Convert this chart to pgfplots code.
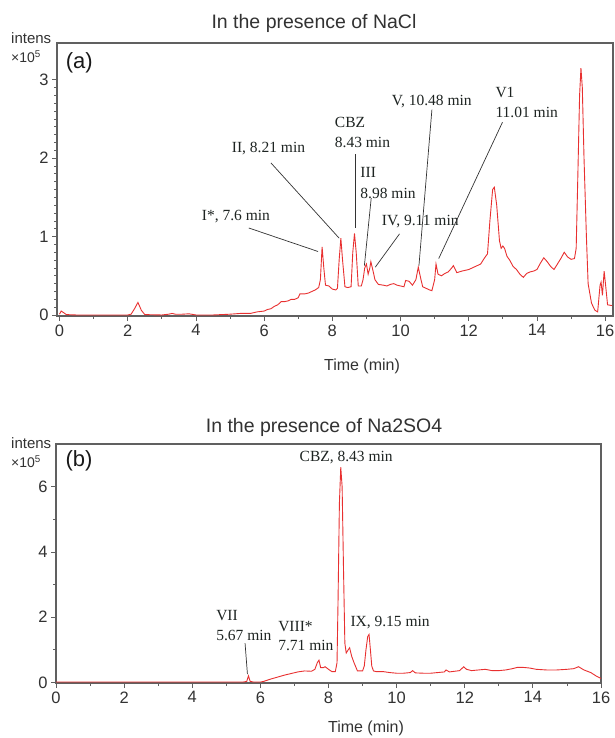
\documentclass[border=0pt]{standalone}
\usepackage{pgfplots}
\pgfplotsset{compat=1.18}
\usepackage{fontspec}
\setmainfont{Liberation Sans}
\newfontfamily\serif{Liberation Serif}

\definecolor{trace}{RGB}{232,48,48}
\definecolor{axgray}{RGB}{96,96,96}
\definecolor{lblgray}{RGB}{50,50,50}
\definecolor{notecol}{RGB}{30,36,34}

\pgfplotsset{
  chrom/.style={
    scale only axis,
    axis line style={axgray,line width=1.2pt},
    tick style={axgray,line width=0.8pt},
    tick align=outside,
    xtick pos=bottom, ytick pos=left,
    major tick length=5pt, minor tick length=3pt,
    ticklabel style={font=\fontsize{16.5}{18}\selectfont,text=lblgray},
    /pgf/number format/assume math mode=true,
    xtick={0,2,...,16},
    minor x tick num=1,
    clip=true,
  },
}
\tikzset{
  note/.style={font=\serif\fontsize{15.5}{17}\selectfont,text=notecol,inner sep=0pt},
  lead/.style={black!80,line width=0.7pt},
}

\begin{document}
\begin{tikzpicture}
\path[use as bounding box] (0pt,0pt) rectangle (614pt,-738pt);

% ---------- (a) NaCl ----------
\node[font=\fontsize{19.5}{22}\selectfont,text=lblgray] at (314pt,-23pt) {In the presence of NaCl};
\node[font=\fontsize{15}{16}\selectfont,text=lblgray,anchor=west,inner sep=0pt] at (11pt,-38pt) {intens};
\node[font=\fontsize{14}{16}\selectfont,text=lblgray,anchor=west,inner sep=0pt] at (11pt,-57pt) {×10\textsuperscript{5}};
\node[font=\fontsize{16}{18}\selectfont,text=lblgray] at (362pt,-366pt) {Time (min)};

\begin{axis}[chrom,
  at={(57pt,-316pt)}, anchor=south west,
  width=556pt, height=273pt,
  xmin=-0.073, xmax=16.23,
  ymin=-0.013, ymax=3.47,
  ytick={0,1,2,3}, minor y tick num=9,
]
\addplot[trace,line width=0.9pt] coordinates {
(0,0.01)(0.05,0.05)(0.12,0.03)(0.2,0.005)(0.5,0)(1,0)(1.5,0)(2.0,0)(2.1,0.01)(2.2,0.08)(2.3,0.16)(2.4,0.06)(2.5,0.005)
(3.0,0)(3.2,0.01)(3.3,0.02)(3.4,0.01)(3.6,0.01)(3.8,0.015)(4.0,0)(4.5,0)(5.0,0.01)(5.3,0.02)(5.6,0.02)(5.8,0.04)
(6.0,0.05)(6.1,0.07)(6.2,0.08)(6.3,0.11)(6.4,0.13)(6.5,0.17)(6.6,0.17)(6.7,0.18)(6.8,0.2)(6.9,0.2)(7.0,0.22)(7.05,0.27)
(7.2,0.27)(7.3,0.28)(7.4,0.3)(7.5,0.32)(7.6,0.35)(7.65,0.45)(7.7,0.87)(7.75,0.6)(7.8,0.38)(7.9,0.37)(8.0,0.33)(8.1,0.32)
(8.15,0.34)(8.2,0.7)(8.25,0.98)(8.3,0.7)(8.37,0.36)(8.45,0.35)(8.55,0.36)(8.6,0.8)(8.65,1.04)(8.7,0.8)(8.76,0.37)
(8.85,0.37)(8.9,0.45)(8.95,0.6)(9.0,0.65)(9.05,0.52)(9.1,0.6)(9.13,0.68)(9.2,0.55)(9.25,0.45)(9.35,0.39)(9.5,0.38)
(9.6,0.37)(9.7,0.39)(9.8,0.40)(9.9,0.38)(10.0,0.37)(10.1,0.36)(10.15,0.44)(10.25,0.43)(10.35,0.38)(10.45,0.45)
(10.52,0.61)(10.6,0.45)(10.65,0.36)(10.75,0.34)(10.85,0.32)(10.92,0.31)(11.0,0.45)(11.04,0.65)(11.1,0.52)(11.2,0.5)
(11.3,0.53)(11.4,0.55)(11.5,0.6)(11.55,0.63)(11.65,0.54)(11.8,0.56)(12.0,0.58)(12.2,0.62)(12.35,0.65)(12.45,0.72)
(12.55,0.78)(12.62,1.2)(12.7,1.6)(12.75,1.63)(12.82,1.4)(12.9,0.95)(12.95,0.85)(13.0,0.88)(13.05,0.85)(13.12,0.75)
(13.2,0.7)(13.3,0.62)(13.4,0.58)(13.5,0.52)(13.6,0.48)(13.7,0.53)(13.8,0.55)(13.9,0.56)(14.0,0.58)(14.1,0.66)
(14.2,0.73)(14.3,0.68)(14.4,0.62)(14.5,0.58)(14.6,0.65)(14.7,0.72)(14.8,0.80)(14.9,0.74)(15.0,0.71)(15.1,0.72)
(15.15,0.85)(15.2,1.8)(15.25,2.8)(15.29,3.15)(15.33,2.9)(15.38,2.0)(15.45,1.0)(15.5,0.4)(15.6,0.15)(15.7,0.06)
(15.78,0.04)(15.85,0.38)(15.88,0.42)(15.92,0.25)(15.97,0.56)(16.02,0.35)(16.07,0.13)(16.2,0.12)
};
\node[anchor=west,font=\fontsize{22}{24}\selectfont,text=black!90] at (axis cs:0.08,3.22) {(a)};
% peak labels
\node[note,anchor=west] at (axis cs:4.17,1.25) {I*, 7.6 min};
\draw[lead] (axis cs:5.55,1.11) -- (axis cs:7.58,0.81);
\node[note,anchor=west] at (axis cs:5.05,2.12) {II, 8.21 min};
\draw[lead] (axis cs:6.2,1.94) -- (axis cs:8.2,0.98);
\node[note,anchor=west] at (axis cs:8.07,2.46) {CBZ};
\node[note,anchor=west] at (axis cs:8.07,2.20) {8.43 min};
\draw[lead] (axis cs:8.67,2.05) -- (axis cs:8.67,1.11);
\node[note,anchor=west] at (axis cs:8.82,1.82) {III};
\node[note,anchor=west] at (axis cs:8.82,1.55) {8.98 min};
\draw[lead] (axis cs:9.14,1.49) -- (axis cs:8.94,0.63);
\node[note,anchor=west] at (axis cs:9.45,1.19) {IV, 9.11 min};
\draw[lead] (axis cs:9.97,1.035) -- (axis cs:9.26,0.61);
\node[note,anchor=west] at (axis cs:9.74,2.72) {V, 10.48 min};
\draw[lead] (axis cs:10.92,2.62) -- (axis cs:10.54,0.63);
\node[note,anchor=west] at (axis cs:12.78,2.84) {V1};
\node[note,anchor=west] at (axis cs:12.78,2.59) {11.01 min};
\draw[lead] (axis cs:12.99,2.46) -- (axis cs:11.12,0.72);
\end{axis}

% ---------- (b) Na2SO4 ----------
\node[font=\fontsize{19.5}{22}\selectfont,text=lblgray] at (324pt,-427pt) {In the presence of Na2SO4};
\node[font=\fontsize{15}{16}\selectfont,text=lblgray,anchor=west,inner sep=0pt] at (11pt,-443pt) {intens};
\node[font=\fontsize{14}{16}\selectfont,text=lblgray,anchor=west,inner sep=0pt] at (11pt,-462pt) {×10\textsuperscript{5}};
\node[font=\fontsize{16}{18}\selectfont,text=lblgray] at (366pt,-728pt) {Time (min)};

\begin{axis}[chrom,
  at={(56pt,-683pt)}, anchor=south west,
  width=545pt, height=239pt,
  xmin=0, xmax=16,
  ymin=-0.02, ymax=7.31,
  ytick={0,2,4,6}, minor y tick num=1,
]
\addplot[trace,line width=0.9pt] coordinates {
(0,0.01)(1,0.01)(2,0.01)(2.5,0.01)(3,0.01)(4,0.01)(5,0.01)(5.5,0.01)(5.6,0.03)(5.65,0.2)(5.7,0.03)(5.8,0.01)(6.0,0.01)
(6.1,0.03)(6.3,0.1)(6.5,0.16)(6.7,0.22)(6.9,0.27)(7.1,0.32)(7.3,0.35)(7.5,0.34)(7.6,0.4)(7.67,0.6)(7.72,0.68)(7.77,0.45)
(7.85,0.45)(7.9,0.48)(8.0,0.4)(8.1,0.33)(8.2,0.33)(8.25,0.6)(8.28,2.5)(8.32,5.5)(8.36,6.6)(8.4,6.0)(8.44,3.5)(8.48,1.2)
(8.52,0.9)(8.58,1.0)(8.62,1.06)(8.68,0.8)(8.75,0.6)(8.85,0.35)(9.0,0.35)(9.05,0.5)(9.1,1.0)(9.15,1.4)(9.19,1.47)
(9.23,1.0)(9.27,0.5)(9.32,0.35)(9.4,0.33)(9.6,0.33)(9.8,0.3)(10.0,0.28)(10.2,0.28)(10.4,0.3)(10.47,0.36)(10.55,0.29)
(10.8,0.28)(11.0,0.28)(11.2,0.3)(11.4,0.32)(11.45,0.38)(11.55,0.32)(11.7,0.34)(11.85,0.36)(11.97,0.48)(12.05,0.4)
(12.2,0.36)(12.4,0.38)(12.6,0.4)(12.8,0.36)(13.0,0.36)(13.2,0.38)(13.4,0.42)(13.55,0.46)(13.7,0.46)(13.9,0.44)
(14.1,0.4)(14.4,0.38)(14.7,0.38)(15.0,0.4)(15.2,0.42)(15.34,0.48)(15.5,0.38)(15.7,0.3)(15.85,0.2)(16.0,0.12)
};
\node[anchor=west,font=\fontsize{22}{24}\selectfont,text=black!90] at (axis cs:0.18,6.78) {(b)};
\node[note,anchor=west] at (axis cs:4.70,2.05) {VII};
\node[note,anchor=west] at (axis cs:4.70,1.45) {5.67 min};
\draw[lead] (axis cs:5.55,1.2) -- (axis cs:5.62,0.25);
\node[note,anchor=west] at (axis cs:6.52,1.72) {VIII*};
\node[note,anchor=west] at (axis cs:6.52,1.13) {7.71 min};
\node[note] at (axis cs:8.52,6.89) {CBZ, 8.43 min};
\node[note,anchor=west] at (axis cs:8.64,1.82) {IX, 9.15 min};
\end{axis}
\end{tikzpicture}
\end{document}
